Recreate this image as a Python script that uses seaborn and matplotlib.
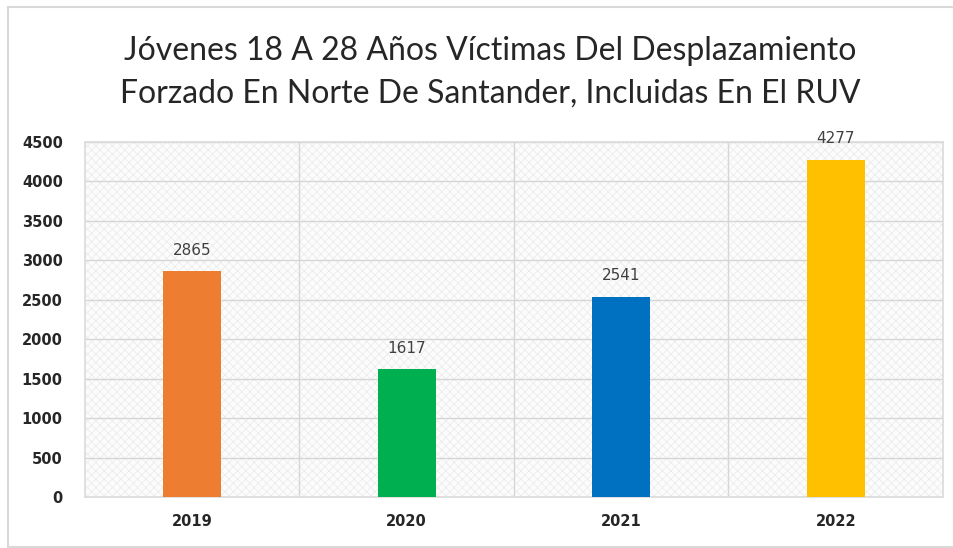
import numpy as np
import pandas as pd
import matplotlib.pyplot as plt
import seaborn as sns
from matplotlib.patches import Rectangle

years = ["2019", "2020", "2021", "2022"]
victims = [2865, 1617, 2541, 4277]
bar_colors = ["#ED7D31", "#00B050", "#0070C0", "#FFC000"]
title = ("Jóvenes 18 A 28 Años Víctimas Del Desplazamiento\n"
         "Forzado En Norte De Santander, Incluidas En El RUV")

df = pd.DataFrame({"year": years, "victims": victims})

sns.set_theme(style="white")
plt.rcParams["font.family"] = ["DejaVu Sans"]
plt.rcParams["hatch.linewidth"] = 0.6

fig = plt.figure(figsize=(9.54, 5.48), dpi=100)
ax = fig.add_axes([85 / 954, 1 - 497 / 548, 858 / 954, 355 / 548])

# light dotted background like the original
ax.set_facecolor("#fcfcfc")
ax.add_patch(Rectangle((0, 0), 1, 1, transform=ax.transAxes, facecolor="none",
                       edgecolor="#ececec", hatch="xxxx", linewidth=0, zorder=0))

sns.barplot(data=df, x="year", y="victims", hue="year", palette=bar_colors,
            width=0.27, legend=False, saturation=1, linewidth=0, ax=ax, zorder=3)

for i, v in enumerate(victims):
    ax.text(i, v + 170, str(v), ha="center", va="bottom", fontsize=11,
            color="#404040", zorder=4)

ax.set_ylim(0, 4500)
ax.set_xlim(-0.5, 3.5)
ax.set_yticks(np.arange(0, 4501, 500))
ax.set_xticks([0.5, 1.5, 2.5], minor=True)
ax.grid(axis="y", color="#d6d6d6", linewidth=1.0, zorder=1)
ax.grid(axis="x", which="minor", color="#d6d6d6", linewidth=1.0, zorder=1)
ax.set_axisbelow(True)
for s in ax.spines.values():
    s.set_color("#dcdcdc")
ax.tick_params(axis="both", which="both", length=0)
ax.tick_params(axis="y", pad=16)
ax.tick_params(axis="x", pad=12)
for lbl in ax.get_xticklabels() + ax.get_yticklabels():
    lbl.set_fontweight("bold")
    lbl.set_fontsize(10.5)
    lbl.set_color("#262626")
ax.set_xlabel("")
ax.set_ylabel("")

fig.text(0.514, 0.868, title, ha="center", va="center", fontsize=23,
         family=["Lato", "DejaVu Sans"], color="#262626",
         linespacing=1.5)

# outer chart frame
fig.add_artist(Rectangle((8 / 954, 1 / 548), 946 / 954, 540 / 548,
                         transform=fig.transFigure, facecolor="none",
                         edgecolor="#d9d9d9", linewidth=1.5))

plt.savefig("out.png", dpi=100)
